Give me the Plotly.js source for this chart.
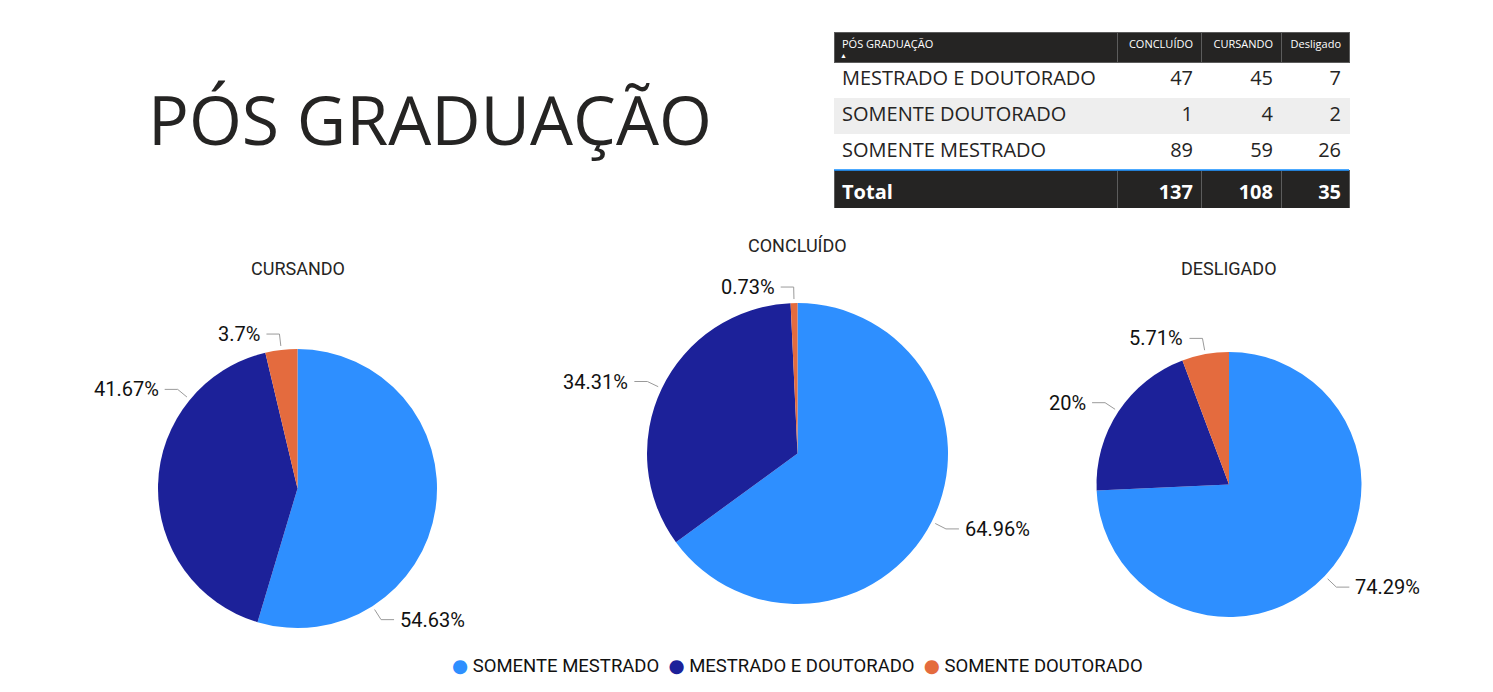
<!DOCTYPE html>
<html>
<head>
<meta charset="utf-8">
<script src="https://cdn.plot.ly/plotly-3.0.1.min.js"></script>
<style>html,body{margin:0;padding:0;background:#fff;}#chart{width:1493px;height:692px;}</style>
</head>
<body>
<div id="chart"></div>
<script>
// ---------------- DATA ----------------
const categories = ['SOMENTE MESTRADO', 'MESTRADO E DOUTORADO', 'SOMENTE DOUTORADO'];
const cursando  = [59, 45, 4];
const concluido = [89, 47, 1];
const desligado = [26, 7, 2];
const pieTitles = ['CURSANDO', 'CONCLUÍDO', 'DESLIGADO'];
const tableHeader = ['PÓS GRADUAÇÃO', 'CONCLUÍDO', 'CURSANDO', 'Desligado'];
const pageTitle = 'PÓS GRADUAÇÃO';

// ---------------- STYLE / LAYOUT ----------------
const W = 1493, H = 692;
const colors = ['#2E8FFF', '#1C2199', '#E46B3E'];
const ink = '#252423';
const labelFont = 'Roboto, "DejaVu Sans", sans-serif';
const px = x => x / W;
const py = y => 1 - y / H;

const pieSpecs = [
  {values: cursando,  title: pieTitles[0], cx: 297.5, cy: 488.5, r: 139.5, ty: 268, angleOverride: [147.5, 309.6, null]},
  {values: concluido, title: pieTitles[1], cx: 797.5, cy: 453.5, r: 150.5, ty: 245, angleOverride: [null, null, null]},
  {values: desligado, title: pieTitles[2], cx: 1229,  cy: 484.5, r: 132.5, ty: 268, angleOverride: [null, null, null]}
];

const traces = [];
const annotations = [];
const shapes = [];

function fmtPct(v) { return String(parseFloat(v.toFixed(2))) + '%'; }

pieSpecs.forEach(spec => {
  traces.push({
    type: 'pie',
    labels: categories,
    values: spec.values,
    sort: false,
    direction: 'clockwise',
    rotation: 0,
    textinfo: 'none',
    hoverinfo: 'label+value+percent',
    marker: {colors: colors, line: {width: 0}},
    showlegend: false,
    domain: {x: [px(spec.cx - spec.r), px(spec.cx + spec.r)], y: [py(spec.cy + spec.r), py(spec.cy - spec.r)]}
  });
  annotations.push({
    text: spec.title, x: px(spec.cx), y: py(spec.ty), xref: 'paper', yref: 'paper',
    xanchor: 'center', yanchor: 'middle', showarrow: false,
    font: {family: labelFont, size: 18, color: ink}
  });
  const total = spec.values.reduce((a, b) => a + b, 0);
  let cum = 0;
  spec.values.forEach((v, i) => {
    const start = cum / total * 360;
    cum += v;
    const end = cum / total * 360;
    let ang = (start + end) / 2;
    if (spec.angleOverride[i] !== null) ang = spec.angleOverride[i];
    const rad = ang * Math.PI / 180;
    const sx = Math.sin(rad), sy = -Math.cos(rad);
    const p0 = [spec.cx + sx * (spec.r + 4), spec.cy + sy * (spec.r + 4)];
    const p1 = [spec.cx + sx * (spec.r + 16), spec.cy + sy * (spec.r + 16)];
    const dir = ang > 180 ? -1 : 1;
    const p2 = [p1[0] + dir * 13, p1[1]];
    shapes.push({
      type: 'path', xref: 'paper', yref: 'paper',
      path: `M ${px(p0[0])},${py(p0[1])} L ${px(p1[0])},${py(p1[1])} L ${px(p2[0])},${py(p2[1])}`,
      line: {color: '#9a9a9a', width: 1}
    });
    annotations.push({
      text: fmtPct(v / total * 100), x: px(p2[0] + dir * 4), y: py(p2[1]), xref: 'paper', yref: 'paper',
      xanchor: dir > 0 ? 'left' : 'right', yanchor: 'middle', showarrow: false,
      font: {family: labelFont, size: 20, color: '#111111'}
    });
  });
});

// ---------------- TABLE ----------------
const order = categories.map((c, i) => i).sort((a, b) => categories[a] < categories[b] ? -1 : 1);
const tableSeries = [concluido, cursando, desligado];
const colNames = order.map(i => categories[i]).concat(['<b>Total</b>']);
const colVals = tableSeries.map(s => order.map(i => String(s[i])).concat(['<b>' + s.reduce((a, b) => a + b, 0) + '</b>']));
const nRows = colNames.length;
const rowFill = ['#ffffff', '#eeeeee', '#ffffff', ink];
const rowFont = [ink, ink, ink, '#ffffff'];
const rowLine = ['#ffffff', '#eeeeee', '#ffffff', '#5c5c5c'];

const tblX0 = 834, tblX1 = 1349, tblY0 = 32, hdrH = 30, rowH = 36;
traces.push({
  type: 'table',
  domain: {x: [px(tblX0), px(tblX1)], y: [py(tblY0 + hdrH + rowH * nRows + 2), py(tblY0)]},
  columnwidth: [283, 84, 80, 68],
  header: {
    values: tableHeader,
    align: ['left', 'right', 'right', 'right'],
    height: hdrH,
    fill: {color: ink},
    line: {color: '#5c5c5c', width: 1},
    font: {family: '"Open Sans", sans-serif', size: 11, color: '#ffffff'}
  },
  cells: {
    values: [colNames].concat(colVals),
    align: ['left', 'right', 'right', 'right'],
    height: rowH,
    fill: {color: [rowFill, rowFill, rowFill, rowFill]},
    line: {color: [rowLine, rowLine, rowLine, rowLine], width: 1},
    font: {family: '"Open Sans", sans-serif', size: 20, color: [rowFont, rowFont, rowFont, rowFont]}
  }
});
shapes.push({type: 'line', xref: 'paper', yref: 'paper', x0: px(tblX0), x1: px(tblX1),
  y0: py(tblY0 + hdrH + rowH * 3), y1: py(tblY0 + hdrH + rowH * 3), line: {color: '#118DFF', width: 1.5}});
annotations.push({text: '▲', x: px(843), y: py(56), xref: 'paper', yref: 'paper', showarrow: false,
  xanchor: 'center', yanchor: 'middle', font: {size: 7, color: '#ffffff'}});

// ---------------- PAGE TITLE ----------------
annotations.push({
  text: pageTitle, x: px(430), y: py(118), xref: 'paper', yref: 'paper',
  xanchor: 'center', yanchor: 'middle', showarrow: false,
  font: {family: '"Open Sans", sans-serif', size: 68, color: ink, weight: 400}
});

// ---------------- LEGEND (custom, circle markers) ----------------
const legendText = categories.map((c, i) => `<span style="color:${colors[i]}">●</span> ${c}`).join('  ');
annotations.push({
  text: legendText, x: px(797), y: py(666), xref: 'paper', yref: 'paper',
  xanchor: 'center', yanchor: 'middle', showarrow: false,
  font: {family: labelFont, size: 18.5, color: '#111111'}
});

const layout = {
  width: W, height: H,
  margin: {l: 0, r: 0, t: 0, b: 0},
  paper_bgcolor: '#ffffff', plot_bgcolor: '#ffffff',
  showlegend: false,
  annotations: annotations,
  shapes: shapes
};
Plotly.newPlot('chart', traces, layout, {displayModeBar: false, staticPlot: true});
</script>
</body>
</html>
